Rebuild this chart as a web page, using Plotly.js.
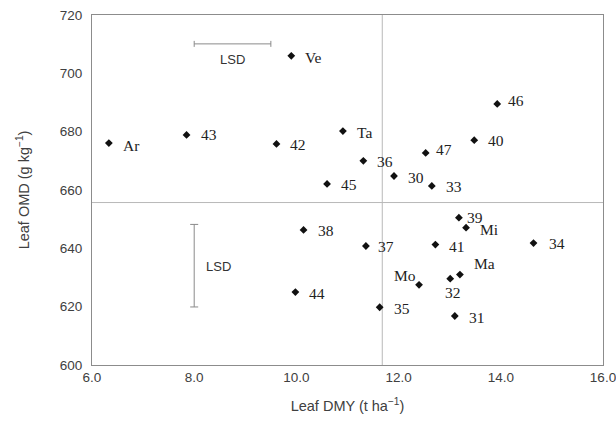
<!DOCTYPE html>
<html>
<head>
<meta charset="utf-8">
<script src="https://cdn.plot.ly/plotly-3.0.1.min.js"></script>
<style>html,body{margin:0;padding:0;background:#fff}#chart{width:616px;height:440px}</style>
</head>
<body>
<div id="chart"></div>
<script>
// Data
const labels = ["Ar","43","42","Ve","Ta","36","45","30","33","47","40","46","39","Mi","41","34","37","38","44","35","31","Mo","32","Ma"];
const leafDMY = [6.33,7.85,9.61,9.90,10.91,11.31,10.60,11.91,12.65,12.53,13.48,13.93,13.18,13.32,12.72,14.64,11.36,10.14,9.98,11.63,13.10,12.40,13.01,13.20];
const leafOMD = [676.1,678.9,675.8,706.0,680.2,670.0,662.1,664.8,661.4,672.7,677.1,689.5,650.5,647.1,641.3,641.8,640.8,646.3,625.0,619.8,616.8,627.5,629.6,631.0];

const meanDMY = 11.68;
const meanOMD = 655.7;

// LSD bars
const lsdDMY = 1.5;   // horizontal bar starts at 8.0, spans 1.5 t/ha
const lsdDMYStart = 8.0;
const lsdDMYAt = 710.1;
const lsdOMD = 28.3;  // vertical bar from 619.9 to 648.2 at x = 8.0
const lsdOMDStart = 619.9;
const lsdOMDAt = 8.0;

const xRange = [6, 16];
const yRange = [600, 720];

// label placement (pixel offsets), kept apart from data
const placement = {
  "Ve":[12,2,"left"],"Ar":[12,2,"left"],"43":[12,0,"left"],"42":[12,1,"left"],"Ta":[12,1,"left"],
  "46":[9,-3,"left"],"40":[12,0,"left"],"47":[8,-3,"left"],"36":[12,1,"left"],"30":[12,1,"left"],
  "33":[12,1,"left"],"45":[12,1,"left"],"38":[12,1,"left"],"37":[10,0,"left"],"44":[12,1,"left"],
  "35":[12,1,"left"],"39":[6,0,"left"],"Mi":[12,2,"left"],"41":[12,2,"left"],"34":[13,0,"left"],
  "Ma":[12,-11,"left"],"32":[3,14,"center"],"Mo":[-1,-9,"right"],"31":[12,1,"left"]
};

const frameColor = "#8c8c8c";
const refColor = "#b8b8b8";

const traces = [
  {x:[meanDMY, meanDMY], y:yRange, mode:"lines", line:{color:refColor,width:1}, hoverinfo:"skip", showlegend:false},
  {x:xRange, y:[meanOMD, meanOMD], mode:"lines", line:{color:refColor,width:1}, hoverinfo:"skip", showlegend:false},
  {x:[lsdDMYStart + lsdDMY/2], y:[lsdDMYAt], mode:"markers", marker:{size:1,color:"rgba(0,0,0,0)"},
   error_x:{type:"data", array:[lsdDMY/2], visible:true, color:"#8a8a8a", thickness:1, width:3}, hoverinfo:"skip", showlegend:false},
  {x:[lsdOMDAt], y:[lsdOMDStart + lsdOMD/2], mode:"markers", marker:{size:1,color:"rgba(0,0,0,0)"},
   error_y:{type:"data", array:[lsdOMD/2], visible:true, color:"#8a8a8a", thickness:1, width:4}, hoverinfo:"skip", showlegend:false},
  {x:leafDMY, y:leafOMD, text:labels, mode:"markers", marker:{symbol:"diamond", size:6, color:"#111"}, showlegend:false}
];

const annotations = labels.map((t,i)=>{
  const p = placement[t];
  return {x:leafDMY[i], y:leafOMD[i], text:t, showarrow:false, xanchor:p[2], yanchor:"middle",
    xshift:p[0], yshift:-p[1], font:{family:"Liberation Serif, Times New Roman, serif", size:15.5, color:"#222"}};
});
annotations.push({x:lsdDMYStart + lsdDMY/2, y:704.8, text:"LSD", showarrow:false, xanchor:"center", yanchor:"middle",
  font:{family:"Liberation Sans, Arial, sans-serif", size:13, color:"#333"}});
annotations.push({x:8.47, y:633.7, text:"LSD", showarrow:false, xanchor:"center", yanchor:"middle",
  font:{family:"Liberation Sans, Arial, sans-serif", size:13, color:"#333"}});

const layout = {
  width:616, height:440,
  margin:{l:92, r:13, t:15, b:75},
  paper_bgcolor:"#fff", plot_bgcolor:"#fff",
  font:{family:"Liberation Sans, Arial, sans-serif", color:"#404040", size:13},
  xaxis:{range:xRange, dtick:2, tick0:6, tickformat:".1f", showgrid:false, zeroline:false,
    showline:true, linecolor:frameColor, linewidth:1, mirror:true, ticks:"", ticklen:0,
    ticklabeloverflow:"allow",
    tickfont:{size:13.5, color:"#404040"},
    title:{text:"Leaf DMY (t ha<sup>−1</sup>)", standoff:16, font:{size:14.5, color:"#404040"}}},
  yaxis:{range:yRange, dtick:20, tick0:600, showgrid:false, zeroline:false,
    showline:true, linecolor:frameColor, linewidth:1, mirror:true, ticks:"outside", ticklen:6, tickcolor:"rgba(0,0,0,0)",
    ticklabeloverflow:"allow",
    tickfont:{size:13.5, color:"#404040"},
    title:{text:"Leaf OMD (g kg<sup>−1</sup>)", standoff:26, font:{size:14.5, color:"#404040"}}},
  annotations:annotations,
  showlegend:false
};

Plotly.newPlot("chart", traces, layout, {staticPlot:true, displayModeBar:false});
</script>
</body>
</html>
